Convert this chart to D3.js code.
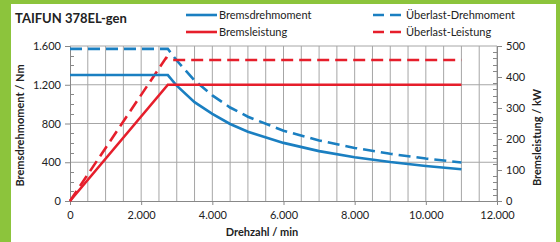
<!DOCTYPE html>
<html>
<head>
<meta charset="utf-8">
<script src="https://cdn.jsdelivr.net/npm/d3@7"></script>
<style>
  html, body { margin: 0; padding: 0; background: #8cc43c; }
  svg { display: block; }
  text { font-family: Lato, "Open Sans", sans-serif; fill: #222; }
</style>
</head>
<body>
<div id="chart"></div>
<script>
// Drehzahl [1/min] vs. Bremsdrehmoment [Nm] (left axis) and Bremsleistung [kW] (right axis)
const torque = [
    [0, 1300], [2750, 1300], [3000, 1190], [3500, 1020], [4000, 900], [4500, 795],
    [5000, 715], [6000, 600], [7000, 515], [8000, 452], [9000, 402], [10000, 362], [11000, 328]
];
const torqueOverload = [
    [0, 1570], [2750, 1570], [3000, 1450], [3500, 1245], [4000, 1090], [4500, 965],
    [5000, 870], [6000, 725], [7000, 625], [8000, 548], [9000, 487], [10000, 438], [11000, 398]
];
const power = [[0, 0], [2750, 375], [11000, 375]];
const powerOverload = [[0, 0], [2700, 462], [2850, 455], [11000, 455]];

const xTicks = [0, 2000, 4000, 6000, 8000, 10000, 12000];
const yTicks = [0, 400, 800, 1200, 1600];
const y2Ticks = [0, 100, 200, 300, 400, 500];

const seriesNames = ['Bremsdrehmoment', 'Bremsleistung', 'Überlast-Drehmoment', 'Überlast-Leistung'];

const BLUE = '#1a7fc1';
const RED = '#e61e2b';
const GRID = '#a6a6a6';

const width = 560, height = 242;
const plot = { left: 70, right: 497, top: 46, bottom: 201 };

const svg = d3.select('#chart').append('svg')
    .attr('width', width)
    .attr('height', height);

// white panel inside green frame
svg.append('rect')
    .attr('x', 11).attr('y', 4)
    .attr('width', 545).attr('height', height - 4)
    .attr('fill', '#fff');

const x = d3.scaleLinear().domain([0, 12000]).range([plot.left, plot.right]);
const y = d3.scaleLinear().domain([0, 1600]).range([plot.bottom, plot.top]);
const y2 = d3.scaleLinear().domain([0, 500]).range([plot.bottom, plot.top]);

const fmt = d3.formatLocale({ decimal: ',', thousands: '.', grouping: [3], currency: ['', '€'] }).format(',d');

// grid
const grid = svg.append('g').attr('class', 'grid');
grid.selectAll('.vgrid')
    .data(d3.range(500, 12001, 500))
    .enter().append('line')
    .attr('x1', d => x(d)).attr('x2', d => x(d))
    .attr('y1', plot.top).attr('y2', plot.bottom)
    .attr('stroke', GRID).attr('stroke-width', 1);
grid.selectAll('.hgrid')
    .data(yTicks.filter(d => d > 0))
    .enter().append('line')
    .attr('x1', plot.left).attr('x2', plot.right)
    .attr('y1', d => y(d)).attr('y2', d => y(d))
    .attr('stroke', GRID).attr('stroke-width', 1);

// minor ticks (inside the plot)
svg.append('g').selectAll('line')
    .data(d3.range(100, 1600, 100).filter(d => d % 400 !== 0))
    .enter().append('line')
    .attr('x1', plot.left).attr('x2', plot.left + 4)
    .attr('y1', d => Math.round(y(d)) + 0.5).attr('y2', d => Math.round(y(d)) + 0.5)
    .attr('stroke', '#888');
svg.append('g').selectAll('line')
    .data(d3.range(20, 500, 20).filter(d => d % 100 !== 0))
    .enter().append('line')
    .attr('x1', plot.right - 4).attr('x2', plot.right)
    .attr('y1', d => Math.round(y2(d)) + 0.5).attr('y2', d => Math.round(y2(d)) + 0.5)
    .attr('stroke', '#888');

// axes
const xAxis = svg.append('g')
    .attr('transform', `translate(0,${plot.bottom})`)
    .call(d3.axisBottom(x).tickValues(xTicks).tickFormat(fmt).tickSize(4).tickPadding(6));
const yAxis = svg.append('g')
    .attr('transform', `translate(${plot.left},0)`)
    .call(d3.axisLeft(y).tickValues(yTicks).tickFormat(fmt).tickSize(5).tickPadding(4));
const y2Axis = svg.append('g')
    .attr('transform', `translate(${plot.right},0)`)
    .call(d3.axisRight(y2).tickValues(y2Ticks).tickFormat(fmt).tickSize(5).tickPadding(4));

[xAxis, yAxis, y2Axis].forEach(a => {
    a.select('.domain').attr('stroke', '#888');
    a.selectAll('.tick line').attr('stroke', '#888');
    a.selectAll('text')
        .attr('font-family', 'Lato, "Open Sans", sans-serif')
        .attr('font-size', 11)
        .attr('fill', '#333');
});

// lines
const leftLine = d3.line().x(d => x(d[0])).y(d => y(d[1]));
const rightLine = d3.line().x(d => x(d[0])).y(d => y2(d[1]));

const lines = [
    { data: torqueOverload, gen: leftLine, color: BLUE, dash: '12,6' },
    { data: powerOverload, gen: rightLine, color: RED, dash: '12,6' },
    { data: torque, gen: leftLine, color: BLUE, dash: null },
    { data: power, gen: rightLine, color: RED, dash: null }
];

svg.append('g').selectAll('path')
    .data(lines)
    .enter().append('path')
    .attr('d', d => d.gen(d.data))
    .attr('fill', 'none')
    .attr('stroke', d => d.color)
    .attr('stroke-width', 2.6)
    .attr('stroke-dasharray', d => d.dash);

// title
svg.append('text')
    .attr('x', 15).attr('y', 23)
    .attr('font-size', 13).attr('font-weight', 'bold')
    .text('TAIFUN 378EL-gen');

// legend
const legendItems = [
    { name: seriesNames[0], color: BLUE, dash: null, x: 186, y: 15 },
    { name: seriesNames[1], color: RED, dash: null, x: 186, y: 32 },
    { name: seriesNames[2], color: BLUE, dash: '11,6', x: 373, y: 15 },
    { name: seriesNames[3], color: RED, dash: '11,6', x: 373, y: 32 }
];
const legend = svg.append('g').selectAll('g')
    .data(legendItems)
    .enter().append('g')
    .attr('transform', d => `translate(${d.x},${d.y})`);
legend.append('line')
    .attr('x1', 0).attr('x2', d => d.dash ? 29 : 31)
    .attr('stroke', d => d.color)
    .attr('stroke-width', 2.6)
    .attr('stroke-dasharray', d => d.dash);
legend.append('text')
    .attr('x', 33)
    .attr('dy', '0.35em')
    .attr('font-size', 11)
    .text(d => d.name);

// axis titles
svg.append('text')
    .attr('transform', `translate(24,${(plot.top + plot.bottom) / 2 + 2}) rotate(-90)`)
    .attr('text-anchor', 'middle')
    .attr('font-size', 11).attr('font-weight', 'bold')
    .text('Bremsdrehmoment / Nm');
svg.append('text')
    .attr('transform', `translate(541,${(plot.top + plot.bottom) / 2 + 14}) rotate(-90)`)
    .attr('text-anchor', 'middle')
    .attr('font-size', 11).attr('font-weight', 'bold')
    .text('Bremsleistung / kW');
svg.append('text')
    .attr('x', 262).attr('y', 236)
    .attr('text-anchor', 'middle')
    .attr('font-size', 11).attr('font-weight', 'bold')
    .text('Drehzahl / min');
</script>
</body>
</html>
